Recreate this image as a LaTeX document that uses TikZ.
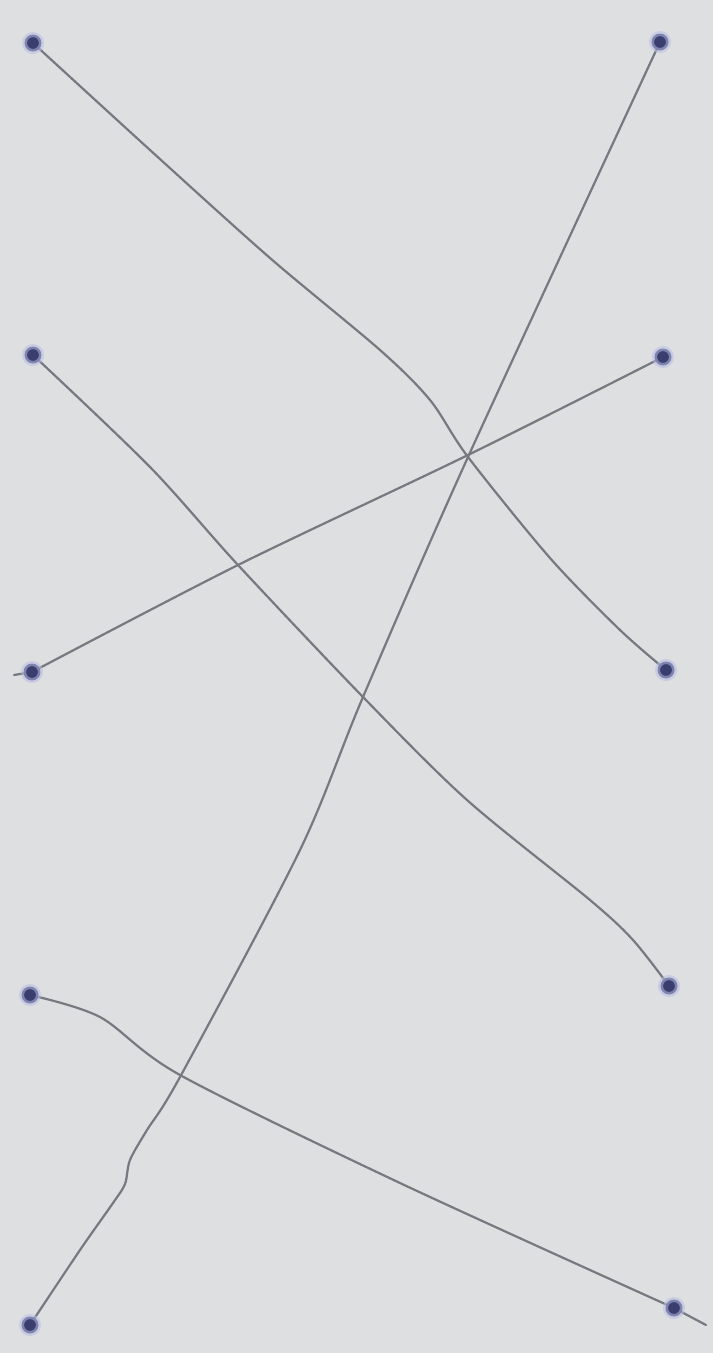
\documentclass[tikz,border=0pt]{standalone}
\usetikzlibrary{calc}
\pgfdeclarelayer{bg}
\pgfdeclarelayer{lines}
\pgfsetlayers{bg,lines,main}
\definecolor{paper}{RGB}{221,223,225}
\definecolor{pencil}{RGB}{118,122,128}
\definecolor{dotc}{RGB}{58,62,110}
\definecolor{haloc}{RGB}{185,190,228}
\tikzset{
  dotnode/.style={circle, inner sep=0pt, minimum size=17pt, fill=dotc, draw=haloc, draw opacity=0.55, line width=5pt},
  wire/.style={draw=pencil, line width=2.2pt, line cap=round, line join=round}
}
\begin{document}
\begin{tikzpicture}[x=1pt,y=-1pt]
\begin{pgfonlayer}{bg}
\fill[paper] (0,0) rectangle (713,1353);
\end{pgfonlayer}
\useasboundingbox (0,0) rectangle (713,1353);
% left dots
\node[dotnode] (L1) at (33,43) {};
\node[dotnode] (L2) at (33,355) {};
\node[dotnode] (L3) at (32,672) {};
\node[dotnode] (L4) at (30,995) {};
\node[dotnode] (L5) at (30,1325) {};
% right dots
\node[dotnode] (R1) at (660,42) {};
\node[dotnode] (R2) at (663,357) {};
\node[dotnode] (R3) at (666,670) {};
\node[dotnode] (R4) at (669,986) {};
\node[dotnode] (R5) at (674,1308) {};
\coordinate (T3) at (14,675);
\coordinate (T5) at (706,1325);
\begin{pgfonlayer}{lines}
\draw[wire] plot[smooth, tension=0.5] coordinates {(L1.center) (150,150) (270,258) (380,350) (430,400) (468,457) (550,558) (620,630) (R3.center)};
\draw[wire] plot[smooth, tension=0.5] coordinates {(L5.center) (80,1250) (113,1203) (125,1184) (130,1160) (147,1130) (180,1077) (300,850) (363,697) (468,457) (R1.center)};
\draw[wire] (T3) -- (L3.center);
\draw[wire] plot[smooth, tension=0.5] coordinates {(L3.center) (238,565) (468,455) (R2.center)};
\draw[wire] plot[smooth, tension=0.5] coordinates {(L2.center) (150,467) (238,565) (363,697) (467,800) (590,900) (633,940) (R4.center)};
\draw[wire] plot[smooth, tension=0.5] coordinates {(L4.center) (100,1017) (180,1075) (400,1183) (R5.center)};
\draw[wire] (R5.center) -- (T5);
\end{pgfonlayer}
\end{tikzpicture}
\end{document}
